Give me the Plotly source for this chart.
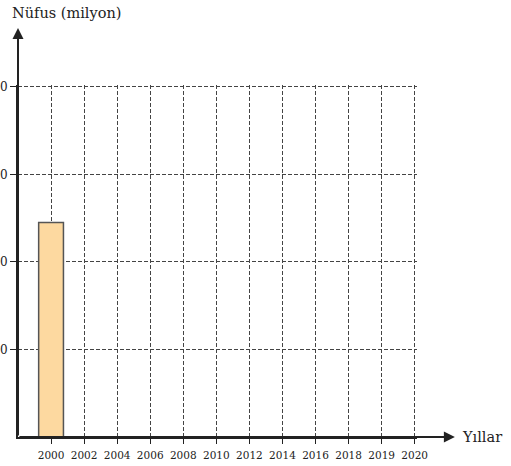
import plotly.graph_objects as go

years = ["2000", "2002", "2004", "2006", "2008", "2010", "2012", "2014", "2016", "2018", "2019", "2020"]
population = [49, None, None, None, None, None, None, None, None, None, None, None]
y_ticks = [20, 40, 60, 80]
y_tick_labels = ["20", "40", "60", "80"]

FONT = "DejaVu Serif"
AX = "#222222"
GRID = "#444444"

fig = go.Figure()
fig.add_trace(go.Bar(
    x=years, y=population, width=0.75,
    marker=dict(color="#FDD9A0", line=dict(color="#555555", width=1.5)),
    hoverinfo="skip",
))

fig.update_layout(
    width=511, height=466,
    margin=dict(l=18, r=94, t=85, b=29, autoexpand=False),
    paper_bgcolor="white", plot_bgcolor="white",
    showlegend=False,
    xaxis=dict(
        type="category", range=[-1, 11.07], fixedrange=True,
        showgrid=True, gridcolor=GRID, griddash="4px,2px", gridwidth=1,
        showline=True, linecolor=AX, linewidth=2,
        ticks="outside", ticklen=5, tickcolor=AX, tickwidth=1,
        ticklabelstandoff=2,
        tickfont=dict(family=FONT, size=10.5, color="#222222"),
        automargin=False, zeroline=False,
    ),
    yaxis=dict(
        range=[0, 80.4], fixedrange=True,
        tickvals=y_ticks, ticktext=y_tick_labels,
        showgrid=True, gridcolor=GRID, griddash="4px,2px", gridwidth=1,
        showline=True, linecolor=AX, linewidth=2,
        ticks="outside", ticklen=6, tickcolor=AX, tickwidth=1,
        tickfont=dict(family=FONT, size=12, color="#222222"),
        automargin=False, zeroline=False,
    ),
)

# axis arrows
fig.add_annotation(xref="paper", yref="paper", x=0, y=1.162, ax=0, ay=409,
                   axref="pixel", ayref="pixel", text="", showarrow=True,
                   arrowhead=2, arrowsize=1.1, arrowwidth=2, arrowcolor=AX)
fig.add_annotation(xref="paper", yref="paper", x=1.095, y=0, ax=-437, ay=0,
                   axref="pixel", ayref="pixel", text="", showarrow=True,
                   arrowhead=2, arrowsize=1.1, arrowwidth=2, arrowcolor=AX)

# axis titles
fig.add_annotation(xref="paper", yref="paper", x=-0.02, y=1.2045, xanchor="left", yanchor="middle",
                   text="Nüfus (milyon)", showarrow=False,
                   font=dict(family=FONT, size=14.5, color="#222222"))
fig.add_annotation(xref="paper", yref="paper", x=1.108, y=0, xanchor="left", yanchor="middle",
                   text="Yıllar", showarrow=False,
                   font=dict(family=FONT, size=14.5, color="#222222"))

fig.write_html("out.html", config={"displayModeBar": False},
               post_script="document.body.style.margin='0';")
